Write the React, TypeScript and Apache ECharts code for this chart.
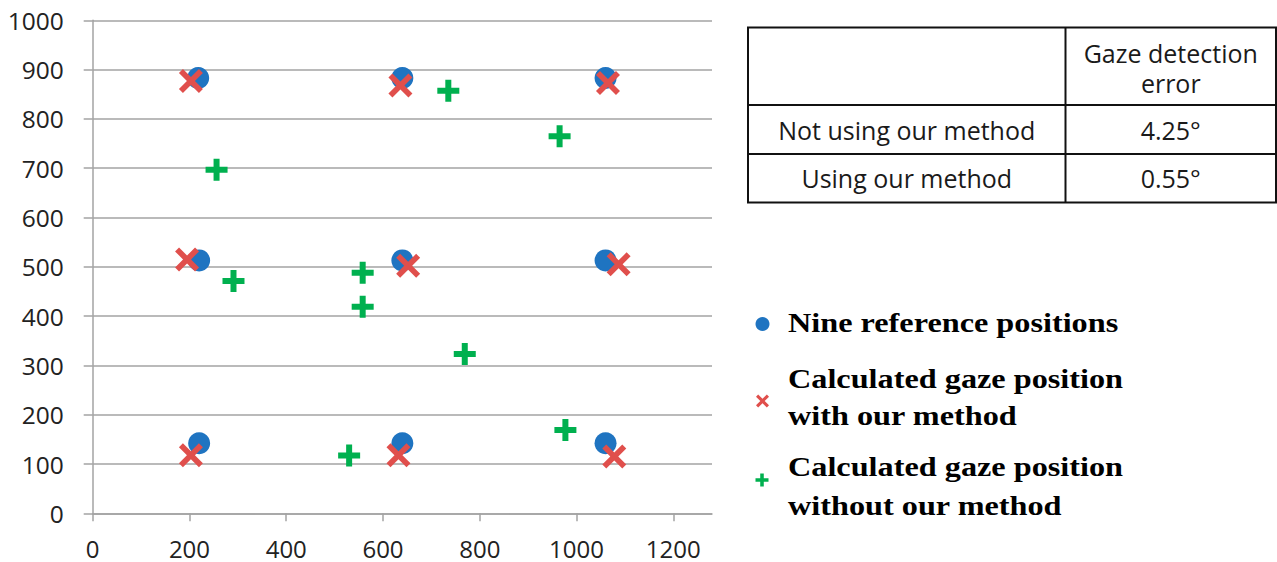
import React, { useEffect, useRef } from "react";
import * as echarts from "echarts";

const xTicks = [0, 200, 400, 600, 800, 1000, 1200];

const referenceName = "Nine reference positions";
const withName = "Calculated gaze position\nwith our method";
const withoutName = "Calculated gaze position\nwithout our method";

const referencePoints: [number, number][] = [
  [218, 883], [640, 883], [1060, 883],
  [220, 513], [640, 513], [1060, 513],
  [220, 142], [640, 142], [1060, 142],
];

const withMethodPoints: [number, number][] = [
  [203, 877], [636, 868], [1065, 873],
  [195, 515], [652, 502], [1087, 505],
  [203, 118], [632, 118], [1078, 115],
];

const withoutMethodPoints: [number, number][] = [
  [256, 697], [291, 471], [558, 488], [558, 419], [530, 117],
  [735, 857], [965, 765], [769, 323], [977, 169],
];

const tableHeaderLines = ["Gaze detection", "error"];
const tableRows: [string, string][] = [
  ["Not using our method", "4.25°"],
  ["Using our method", "0.55°"],
];

const BLUE = "#1f74c1";
const RED = "#e04f4c";
const GREEN = "#00b04f";
const GRAY = "#a3a3a3";

const X_D = "M0,4 L4,0 L12,8 L20,0 L24,4 L16,12 L24,20 L20,24 L12,16 L4,24 L0,20 L8,12 Z";
const PLUS_D = "M8,0 L14,0 L14,8 L22,8 L22,14 L14,14 L14,22 L8,22 L8,14 L0,14 L0,8 L8,8 Z";

echarts.graphic.registerShape("xmark", echarts.graphic.extendPath(X_D, {}));
echarts.graphic.registerShape("plusmark", echarts.graphic.extendPath(PLUS_D, {}));

export default function App() {
  const ref = useRef<HTMLDivElement>(null);
  useEffect(() => {
    if (!ref.current) return;
    const chart = echarts.init(ref.current, null, { renderer: "svg" });

    const tL = 748, tM = 1065.5, tR = 1276, rowY = [27.5, 105, 154, 202.5];
    const tableFont = "'Open Sans', 'Noto Sans', sans-serif";
    const tableGraphics: any[] = [];
    rowY.forEach((y) =>
      tableGraphics.push({
        type: "line",
        shape: { x1: tL - 1, y1: y, x2: tR + 1, y2: y },
        style: { stroke: "#111", lineWidth: 2 },
      })
    );
    [tL, tM, tR].forEach((x) =>
      tableGraphics.push({
        type: "line",
        shape: { x1: x, y1: rowY[0], x2: x, y2: rowY[3] },
        style: { stroke: "#111", lineWidth: 2 },
      })
    );
    const cellTexts: [string, number, number][] = [
      [tableHeaderLines[0], (tM + tR) / 2, 53],
      [tableHeaderLines[1], (tM + tR) / 2, 83],
      [tableRows[0][0], (tL + tM) / 2, (rowY[1] + rowY[2]) / 2],
      [tableRows[0][1], (tM + tR) / 2, (rowY[1] + rowY[2]) / 2],
      [tableRows[1][0], (tL + tM) / 2, (rowY[2] + rowY[3]) / 2],
      [tableRows[1][1], (tM + tR) / 2, (rowY[2] + rowY[3]) / 2],
    ];
    cellTexts.forEach(([t, x, y]) =>
      tableGraphics.push({
        type: "text",
        x,
        y,
        style: {
          text: t,
          font: `25px ${tableFont}`,
          fill: "#1a1a1a",
          align: "center",
          verticalAlign: "middle",
          lineHeight: 28,
        },
      })
    );

    const legendFont = "bold 27px 'Liberation Serif', 'Times New Roman', serif";
    const sx = 1.195;
    const legendGraphics: any[] = [
      { type: "circle", shape: { cx: 762.5, cy: 324, r: 7 }, style: { fill: BLUE } },
      {
        type: "xmark",
        x: 756,
        y: 394.5,
        scaleX: 13 / 24,
        scaleY: 13 / 24,
        style: { fill: RED },
      },
      {
        type: "plusmark",
        x: 755.5,
        y: 473.5,
        scaleX: 13 / 22,
        scaleY: 13 / 22,
        style: { fill: GREEN },
      },
      {
        type: "text",
        x: 788,
        y: 322.5,
        scaleX: sx,
        style: { text: referenceName, font: legendFont, fill: "#000", align: "left", verticalAlign: "middle" },
      },
      {
        type: "text",
        x: 788,
        y: 396.5,
        scaleX: sx,
        style: {
          text: withName,
          font: legendFont,
          fill: "#000",
          align: "left",
          verticalAlign: "middle",
          lineHeight: 37,
        },
      },
      {
        type: "text",
        x: 788,
        y: 486,
        scaleX: sx,
        style: {
          text: withoutName,
          font: legendFont,
          fill: "#000",
          align: "left",
          verticalAlign: "middle",
          lineHeight: 39,
        },
      },
    ];

    const axisFont = "'Open Sans', 'Noto Sans', sans-serif";

    chart.setOption({
      animation: false,
      backgroundColor: "#ffffff",
      grid: {
        left: 92.7,
        right: 565,
        top: 20.3,
        bottom: 48.7,
        containLabel: false,
        outerBoundsMode: "none",
      },
      xAxis: {
        type: "value",
        min: 0,
        max: 1280,
        interval: 200,
        axisLine: { show: true, lineStyle: { color: GRAY, width: 1.5 } },
        axisTick: {
          show: true,
          length: 8,
          inside: false,
          customValues: xTicks,
          lineStyle: { color: GRAY, width: 1.5 },
        },
        axisLabel: {
          customValues: xTicks,
          margin: 25,
          fontSize: 24,
          lineHeight: 20,
          fontFamily: axisFont,
          color: "#222",
          formatter: (v: number) => String(v),
        },
        splitLine: { show: false },
      },
      yAxis: {
        type: "value",
        min: 0,
        max: 1000,
        interval: 100,
        axisLine: { show: true, lineStyle: { color: GRAY, width: 1.5 } },
        axisTick: { show: true, length: 9, inside: false, lineStyle: { color: GRAY, width: 1.5 } },
        axisLabel: {
          margin: 29,
          fontSize: 24.5,
          fontFamily: axisFont,
          color: "#222",
          formatter: (v: number) => String(v),
        },
        splitLine: { show: true, lineStyle: { color: GRAY, width: 1.5 } },
      },
      series: [
        {
          name: referenceName,
          type: "scatter",
          data: referencePoints,
          symbol: "circle",
          symbolSize: 22,
          itemStyle: { color: BLUE, opacity: 1 },
          z: 2,
        },
        {
          name: withName,
          type: "scatter",
          data: withMethodPoints,
          symbol: "path://" + X_D,
          symbolSize: 24,
          itemStyle: { color: RED, opacity: 1 },
          z: 3,
        },
        {
          name: withoutName,
          type: "scatter",
          data: withoutMethodPoints,
          symbol: "path://" + PLUS_D,
          symbolSize: 22,
          itemStyle: { color: GREEN, opacity: 1 },
          z: 4,
        },
      ],
      graphic: [...tableGraphics, ...legendGraphics],
    });

    return () => chart.dispose();
  }, []);

  return (
    <div
      ref={ref}
      style={{ position: "fixed", left: 0, top: 0, width: 1277, height: 562, background: "#fff" }}
    />
  );
}
